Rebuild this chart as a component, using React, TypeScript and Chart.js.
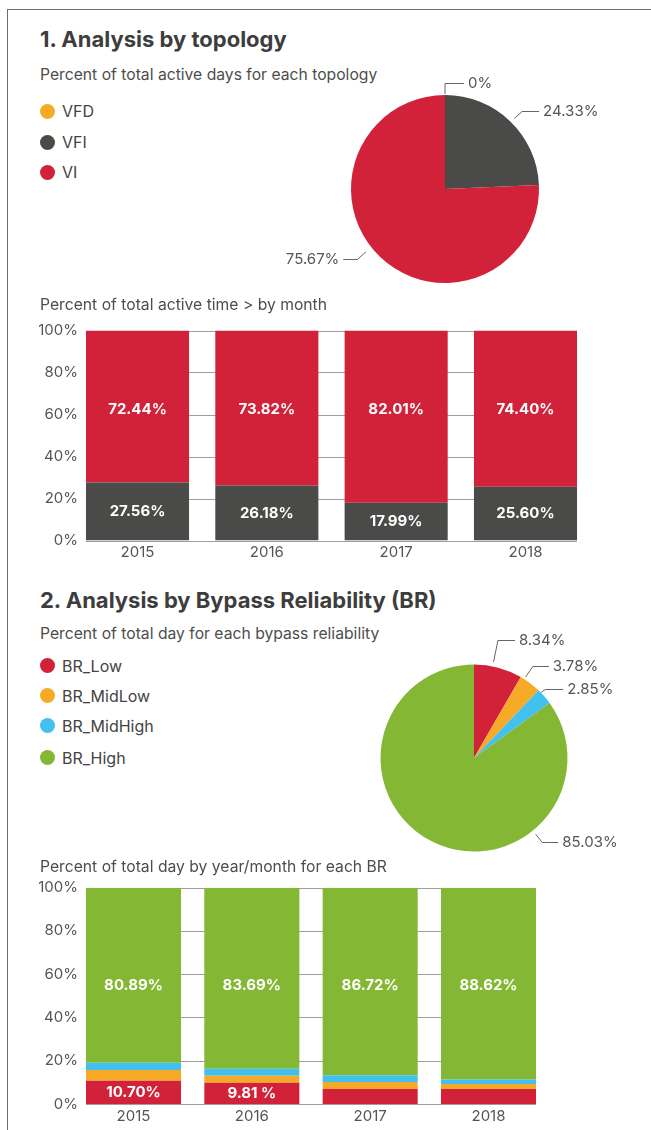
import React, { useEffect, useRef } from 'react';
import { Chart, registerables } from 'chart.js';

Chart.register(...registerables);

const FONT = 'Inter, Roboto, "Noto Sans", sans-serif';
Chart.defaults.font.family = FONT;

// ---------- data ----------
const topologyLabels = ['VFD', 'VFI', 'VI'];
const topologyShare = [0, 24.33, 75.67];
const topologyColors = ['#F7A928', '#4A4A48', '#D22239'];

const years = ['2015', '2016', '2017', '2018'];
const vfiByYear = [27.56, 26.18, 17.99, 25.6];
const viByYear = [72.44, 73.82, 82.01, 74.4];
const vfdByYear = [0, 0, 0, 0];

const brLabels = ['BR_Low', 'BR_MidLow', 'BR_MidHigh', 'BR_High'];
const brShare = [8.34, 3.78, 2.85, 85.03];
const brColors = ['#D22239', '#F7A928', '#42C0EE', '#84B734'];

const brLowByYear = [10.7, 9.81, 6.9, 6.9];
const brMidLowByYear = [5.0, 3.2, 3.3, 2.4];
const brMidHighByYear = [3.41, 3.3, 3.08, 2.08];
const brHighByYear = [80.89, 83.69, 86.72, 88.62];
const brLowText = ['10.70%', '9.81 %', '', ''];

const pct = (v: number) => `${v.toFixed(2)}%`;

// ---------- leader-line layout (style only) ----------
type Leader = { angle: number; r1: number; r2: number; len: number; dir: 1 | -1 };
const topologyLeaders: Leader[] = [
  { angle: -90, r1: 1, r2: 12, len: 19, dir: 1 },
  { angle: -45.5, r1: 5, r2: 16, len: 17, dir: 1 },
  { angle: 141.5, r1: 7, r2: 18, len: 14, dir: -1 },
];
const brLeaders: Leader[] = [
  { angle: -78.5, r1: 4.5, r2: 26.5, len: 17, dir: 1 },
  { angle: -57.5, r1: 2.5, r2: 16, len: 16, dir: 1 },
  { angle: -44.3, r1: 0.5, r2: 6, len: 18, dir: 1 },
  { angle: 51, r1: 4.5, r2: 15, len: 16, dir: 1 },
];

function makePieLabels(leaders: Leader[], texts: string[]) {
  return {
    id: 'pieLabels',
    afterDraw(chart: any) {
      const ctx = chart.ctx as CanvasRenderingContext2D;
      const arc = chart.getDatasetMeta(0).data[0];
      const { x, y, outerRadius } = arc.getProps(['x', 'y', 'outerRadius'], true);
      ctx.save();
      ctx.strokeStyle = '#666';
      ctx.lineWidth = 1;
      ctx.fillStyle = '#555';
      ctx.font = `15px ${FONT}`;
      ctx.textBaseline = 'middle';
      leaders.forEach((l, i) => {
        const a = (l.angle * Math.PI) / 180;
        const x0 = x + (outerRadius + l.r1) * Math.cos(a);
        const y0 = y + (outerRadius + l.r1) * Math.sin(a);
        const x1 = x + (outerRadius + l.r2) * Math.cos(a);
        const y1 = Math.round(y + (outerRadius + l.r2) * Math.sin(a)) + 0.5;
        const x2 = x1 + l.dir * l.len;
        ctx.beginPath();
        ctx.moveTo(x0, y0);
        ctx.lineTo(x1, y1);
        ctx.lineTo(x2, y1);
        ctx.stroke();
        ctx.textAlign = l.dir > 0 ? 'left' : 'right';
        ctx.fillText(texts[i], x2 + l.dir * 4, y1);
      });
      ctx.restore();
    },
  };
}

// gridlines only across the span of the bars, drawn under them
const gapGrid = {
  id: 'gapGrid',
  beforeDatasetsDraw(chart: any) {
    const ctx = chart.ctx as CanvasRenderingContext2D;
    const ys = chart.scales.y;
    const bars = chart.getDatasetMeta(0).data;
    const f = bars[0].getProps(['x', 'width'], true);
    const l = bars[bars.length - 1].getProps(['x', 'width'], true);
    const left = f.x - f.width / 2;
    const right = l.x + l.width / 2;
    ctx.save();
    ctx.strokeStyle = '#9e9e9e';
    ctx.lineWidth = 1;
    ys.ticks.forEach((t: any) => {
      const py = Math.round(ys.getPixelForValue(t.value)) + 0.5;
      ctx.beginPath();
      ctx.moveTo(left, py);
      ctx.lineTo(right, py);
      ctx.stroke();
    });
    ctx.restore();
  },
};

// y tick labels, right-aligned just left of the first bar
function makeYLabels(rightX: number) {
  return {
    id: 'yLabels',
    afterDraw(chart: any) {
      const ctx = chart.ctx as CanvasRenderingContext2D;
      const ys = chart.scales.y;
      ctx.save();
      ctx.fillStyle = '#555';
      ctx.font = `15px ${FONT}`;
      ctx.textAlign = 'right';
      ctx.textBaseline = 'middle';
      ys.ticks.forEach((t: any) => {
        ctx.fillText(`${t.value}%`, rightX, ys.getPixelForValue(t.value));
      });
      ctx.restore();
    },
  };
}

type BarLabel = { ds: number; texts: string[]; atValue?: number };
function makeBarLabels(items: BarLabel[]) {
  return {
    id: 'barLabels',
    afterDatasetsDraw(chart: any) {
      const ctx = chart.ctx as CanvasRenderingContext2D;
      const ys = chart.scales.y;
      ctx.save();
      ctx.fillStyle = '#ffffff';
      ctx.font = `bold 15px ${FONT}`;
      ctx.textAlign = 'center';
      ctx.textBaseline = 'middle';
      items.forEach((it) => {
        chart.getDatasetMeta(it.ds).data.forEach((el: any, i: number) => {
          const t = it.texts[i];
          if (!t) return;
          const p = el.getProps(['x', 'y', 'base'], true);
          const py = it.atValue != null ? ys.getPixelForValue(it.atValue) : (p.y + p.base) / 2;
          ctx.fillText(t, p.x, py);
        });
      });
      ctx.restore();
    },
  };
}

function barOptions(o: { axisWidth: number; padRight: number; padTop: number; xAxisHeight: number; xPad: number }) {
  return {
    responsive: false,
    animation: false as const,
    layout: { padding: { left: 0, right: o.padRight, top: o.padTop, bottom: 0 } },
    scales: {
      x: {
        stacked: true,
        grid: { display: false, drawTicks: false },
        border: { display: false },
        ticks: { padding: o.xPad, color: '#555', font: { size: 15 } },
        afterFit: (s: any) => {
          s.height = o.xAxisHeight;
        },
      },
      y: {
        stacked: true,
        min: 0,
        max: 100,
        grid: { display: false, drawTicks: false },
        border: { display: false },
        ticks: { stepSize: 20, display: false },
        afterFit: (s: any) => {
          s.width = o.axisWidth;
        },
      },
    },
    plugins: { legend: { display: false }, tooltip: { enabled: false } },
  };
}

const abs = (left: number, top: number, extra: React.CSSProperties = {}): React.CSSProperties => ({
  position: 'absolute',
  left,
  top,
  ...extra,
});

function Text({ x, cy, size, bold, color, children }: any) {
  return (
    <div
      style={abs(x, cy - size / 2, {
        fontSize: size,
        lineHeight: `${size}px`,
        fontWeight: bold ? 700 : 400,
        color,
        whiteSpace: 'nowrap',
        fontFamily: FONT,
      })}
    >
      {children}
    </div>
  );
}

function Legend({ labels, colors, ys }: { labels: string[]; colors: string[]; ys: number[] }) {
  return (
    <>
      {labels.map((l, i) => (
        <div
          key={l}
          style={abs(40, ys[i] - 10, {
            height: 20,
            display: 'flex',
            alignItems: 'center',
            fontFamily: FONT,
            fontSize: 16,
            lineHeight: '20px',
            color: '#444',
          })}
        >
          <span
            style={{
              width: 15,
              height: 15,
              borderRadius: '50%',
              background: colors[i],
              display: 'inline-block',
              marginRight: 7,
            }}
          />
          <span>{l}</span>
        </div>
      ))}
    </>
  );
}

export default function App() {
  const pie1 = useRef<HTMLCanvasElement>(null);
  const bar1 = useRef<HTMLCanvasElement>(null);
  const pie2 = useRef<HTMLCanvasElement>(null);
  const bar2 = useRef<HTMLCanvasElement>(null);

  useEffect(() => {
    const charts: Chart[] = [];

    charts.push(
      new Chart(pie1.current!, {
        type: 'pie',
        data: {
          labels: topologyLabels,
          datasets: [{ data: topologyShare, backgroundColor: topologyColors, borderWidth: 0 }],
        },
        options: {
          responsive: false,
          animation: false,
          layout: { padding: { left: 81, right: 91, top: 35, bottom: 17 } },
          plugins: { legend: { display: false }, tooltip: { enabled: false } },
        },
        plugins: [makePieLabels(topologyLeaders, topologyShare.map((v) => `${v}%`))],
      } as any)
    );

    charts.push(
      new Chart(bar1.current!, {
        type: 'bar',
        data: {
          labels: years,
          datasets: [
            { label: 'VFI', data: vfiByYear, backgroundColor: topologyColors[1] },
            { label: 'VI', data: viByYear, backgroundColor: topologyColors[2] },
            { label: 'VFD', data: vfdByYear, backgroundColor: topologyColors[0] },
          ].map((d) => ({ ...d, borderWidth: 0, barPercentage: 0.797, categoryPercentage: 1 })),
        },
        options: barOptions({ axisWidth: 72.85, padRight: 60.85, padTop: 14.5, xAxisHeight: 29.5, xPad: 3.2 }),
        plugins: [
          gapGrid,
          makeYLabels(78),
          makeBarLabels([
            { ds: 0, texts: vfiByYear.map(pct) },
            { ds: 1, texts: viByYear.map(pct), atValue: 62.5 },
          ]),
        ],
      } as any)
    );

    charts.push(
      new Chart(pie2.current!, {
        type: 'pie',
        data: {
          labels: brLabels,
          datasets: [{ data: brShare, backgroundColor: brColors, borderWidth: 0 }],
        },
        options: {
          responsive: false,
          animation: false,
          layout: { padding: { left: 80.5, right: 72.5, top: 44.5, bottom: 18.5 } },
          plugins: { legend: { display: false }, tooltip: { enabled: false } },
        },
        plugins: [makePieLabels(brLeaders, brShare.map((v) => `${v}%`))],
      } as any)
    );

    charts.push(
      new Chart(bar2.current!, {
        type: 'bar',
        data: {
          labels: years,
          datasets: [
            { label: 'BR_Low', data: brLowByYear, backgroundColor: brColors[0] },
            { label: 'BR_MidLow', data: brMidLowByYear, backgroundColor: brColors[1] },
            { label: 'BR_MidHigh', data: brMidHighByYear, backgroundColor: brColors[2] },
            { label: 'BR_High', data: brHighByYear, backgroundColor: brColors[3] },
          ].map((d) => ({ ...d, borderWidth: 0, barPercentage: 0.803, categoryPercentage: 1 })),
        },
        options: barOptions({ axisWidth: 74.33, padRight: 103.33, padTop: 17.7, xAxisHeight: 26, xPad: 3.2 }),
        plugins: [
          gapGrid,
          makeYLabels(78),
          makeBarLabels([
            { ds: 3, texts: brHighByYear.map(pct), atValue: 55 },
            { ds: 0, texts: brLowText },
          ]),
        ],
      } as any)
    );

    return () => charts.forEach((c) => c.destroy());
  }, []);

  return (
    <div
      style={{
        position: 'absolute',
        left: 0,
        top: 0,
        width: 651,
        height: 1130,
        overflow: 'hidden',
        background: '#fff',
        fontFamily: FONT,
      }}
    >
      <div
        style={abs(7, 9, {
          right: 0,
          bottom: 0,
          borderTop: '1px solid #6e6e6e',
          borderLeft: '1px solid #6e6e6e',
        })}
      />

      <Text x={40} cy={39} size={22} bold color="#3d3d3d">
        1. Analysis by topology
      </Text>
      <Text x={40} cy={75} size={15.7} color="#4d4d4d">
        Percent of total active days for each topology
      </Text>
      <Legend labels={topologyLabels} colors={topologyColors} ys={[111, 142, 172]} />

      <canvas ref={pie1} width={360} height={240} style={abs(270, 60, { width: 360, height: 240 })} />

      <Text x={40} cy={305} size={15.7} color="#4d4d4d">
        Percent of total active time &gt; by month
      </Text>
      <canvas ref={bar1} width={651} height={254} style={abs(0, 316, { width: 651, height: 254 })} />

      <Text x={40} cy={600} size={22} bold color="#3d3d3d">
        2. Analysis by Bypass Reliability (BR)
      </Text>
      <Text x={40} cy={634} size={15.7} color="#4d4d4d">
        Percent of total day for each bypass reliability
      </Text>
      <Legend labels={brLabels} colors={brColors} ys={[665.7, 695.7, 725.7, 757.7]} />

      <canvas ref={pie2} width={340} height={250} style={abs(300, 620, { width: 340, height: 250 })} />

      <Text x={40} cy={867} size={15.7} color="#4d4d4d">
        Percent of total day by year/month for each BR
      </Text>
      <canvas ref={bar2} width={651} height={260} style={abs(0, 870, { width: 651, height: 260 })} />
    </div>
  );
}
